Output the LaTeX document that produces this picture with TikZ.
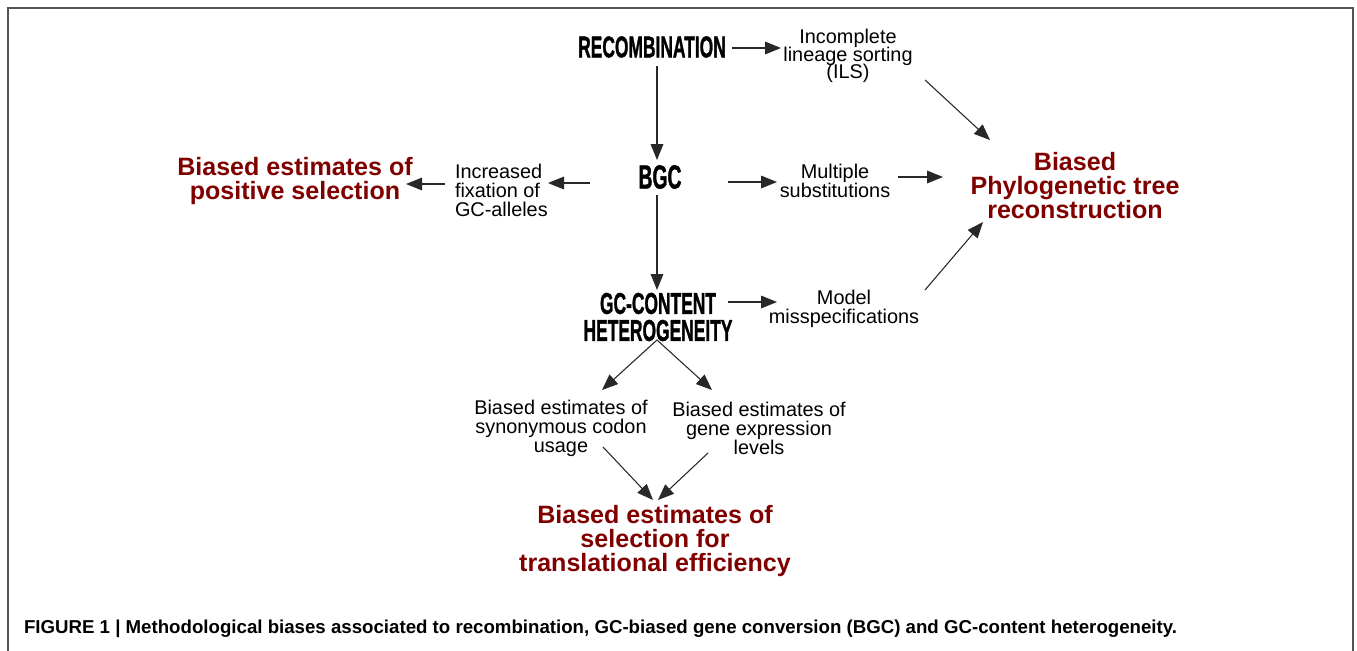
\documentclass[tikz,border=0pt]{standalone}
\usepackage{fontspec}
\setmainfont{Liberation Sans}
\newfontfamily\heavyfont[FakeBold=1.6]{Liberation Sans Bold}
\usetikzlibrary{arrows.meta,calc}
\definecolor{biasred}{RGB}{128,0,0}
\definecolor{linegray}{RGB}{40,40,40}
\definecolor{framegray}{RGB}{85,85,85}
% tall condensed capitals for the three driving processes
\newcommand{\condcaps}[1]{\scalebox{0.58}[1]{\heavyfont #1}}
% let stacked lines sit closer than their letters allow
\newcommand{\tightlines}{\lineskiplimit=-20pt\relax}
\tikzset{
  every node/.style={inner sep=0pt, outer sep=0pt},
  proc/.style={font=\fontsize{22.5pt}{20.25pt}\selectfont, align=center},
  effect/.style={font=\fontsize{14.9pt}{14.25pt}\selectfont, align=center},
  bias/.style={font=\fontsize{18.8pt}{18pt}\selectfont\bfseries, text=biasred, align=center},
  arr/.style={draw=linegray, line width=0.8pt, -{Triangle[length=12pt, width=9.5pt]}},
}
\begin{document}
\begin{tikzpicture}[x=0.75pt, y=-0.75pt]
  \useasboundingbox (0,0) rectangle (1357,650);
  % open frame around the figure
  \draw[framegray, line width=1.6pt] (8,652) -- (8,8) -- (1353,8) -- (1353,652);

  % driving processes
  \node[proc] (rec) at (652,47) {\condcaps{RECOMBINATION}};
  \node[proc, font=\fontsize{25pt}{20pt}\selectfont] (bgc) at (660,177) {\condcaps{BGC}};
  \node[proc] (gch) at (658,317) {\condcaps{GC-CONTENT}\\\condcaps{HETEROGENEITY}};

  % intermediate effects
  \node[effect, font=\fontsize{14.9pt}{13.2pt}\selectfont\tightlines] (ils) at (848,56) {Incomplete\\lineage sorting\\(ILS)};
  \node[effect] (msub) at (835,181) {Multiple\\substitutions};
  \node[effect, align=left, anchor=west] (incr) at (455,190) {Increased\\fixation of\\GC-alleles};
  \node[effect] (mod) at (844,309) {Model\\misspecifications};
  \node[effect] (syn) at (561,428) {Biased estimates of\\synonymous codon\\usage};
  \node[effect] (gex) at (759,428) {Biased estimates of\\gene expression\\levels};

  % resulting biases
  \node[bias] (phy) at (1075,186) {Biased\\Phylogenetic tree\\reconstruction};
  \node[bias] (pos) at (295,181) {Biased estimates of\\positive selection};
  \node[bias] (eff) at (655,541) {Biased estimates of\\selection for\\translational efficiency};

  % caption
  \node[anchor=west, font=\fontsize{14pt}{16pt}\selectfont\bfseries] (cap) at (24,629)
    {FIGURE 1 | Methodological biases associated to recombination, GC-biased gene conversion (BGC) and GC-content heterogeneity.};

  % connectors
  \draw[arr] ($(rec)+(80,1)$) -- ($(ils)+(-67,-8)$);
  \draw[arr] ($(rec)+(5,19)$) -- ($(bgc)+(-3,-17)$);
  \draw[arr] ($(bgc)+(-3,18)$) -- ($(gch)+(-1,-27)$);
  \draw[arr] ($(bgc)+(68,5)$) -- ($(msub)+(-58,1)$);
  \draw[arr] ($(msub)+(63,-4)$) -- ($(phy)+(-132,-9)$);
  \draw[arr] ($(ils)+(77,24)$) -- ($(phy)+(-85,-46)$);
  \draw[arr] ($(mod)+(81,-19)$) -- ($(phy)+(-92,36)$);
  \draw[arr] ($(gch)+(70,-15)$) -- ($(mod)+(-67,-7)$);
  \draw[arr] ($(bgc)+(-70,6)$) -- ($(incr.west)+(93,-7)$);
  \draw[arr] ($(incr.west)+(-10,-6)$) -- ($(pos)+(111,3)$);
  \coordinate (split) at ($(gch)+(-1,23)$);
  \draw[arr] (split) -- ($(syn)+(41,-38)$);
  \draw[arr] (split) -- ($(gex)+(-47,-38)$);
  \draw[arr] ($(syn)+(42,19)$) -- ($(eff)+(-2,-41)$);
  \draw[arr] ($(gex)+(-51,25)$) -- ($(eff)+(3,-41)$);
\end{tikzpicture}
\end{document}
